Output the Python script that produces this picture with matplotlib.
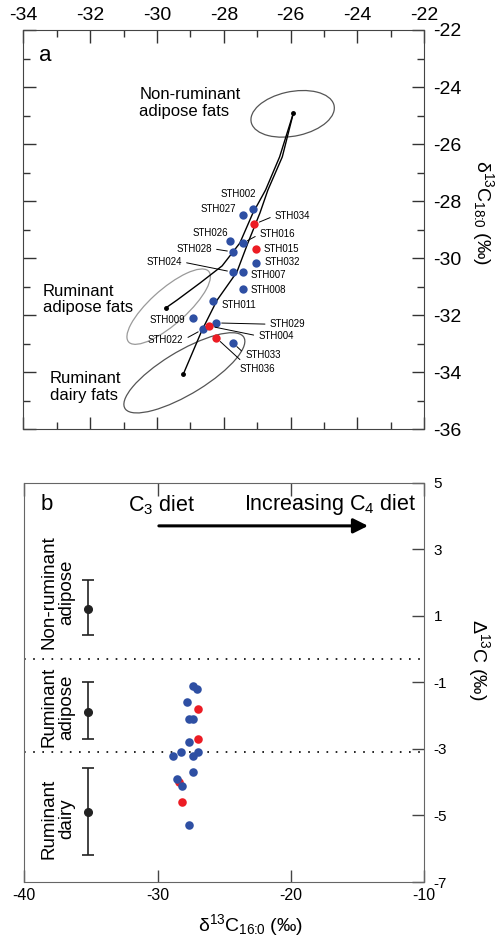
import matplotlib.pyplot as plt
from matplotlib.patches import Ellipse
from matplotlib.ticker import MultipleLocator

plt.rcParams['font.family'] = ['Liberation Sans', 'DejaVu Sans']
plt.rcParams['mathtext.fontset'] = 'custom'
plt.rcParams['mathtext.rm'] = 'Liberation Sans'
plt.rcParams['mathtext.it'] = 'Liberation Sans:italic'
plt.rcParams['mathtext.bf'] = 'Liberation Sans:bold'
plt.rcParams['axes.unicode_minus'] = False

BLUE = '#2e4fa3'
RED = '#ec1c24'

# ---- panel a: sample values (d13C16:0, d13C18:0) ----
samples = ['STH002', 'STH027', 'STH034', 'STH026', 'STH016', 'STH015',
           'STH028', 'STH032', 'STH024', 'STH007', 'STH008', 'STH011',
           'STH009', 'STH029', 'STH004', 'STH022', 'STH036', 'STH033']
c16 = [-27.14, -27.44, -27.09, -27.82, -27.44, -27.05,
       -27.73, -27.05, -27.73, -27.44, -27.44, -28.32,
       -28.92, -28.23, -28.43, -28.62, -28.23, -27.73]
c18 = [-28.29, -28.49, -28.81, -29.39, -29.48, -29.69,
       -29.78, -30.18, -30.49, -30.49, -31.07, -31.49,
       -32.09, -32.27, -32.38, -32.49, -32.79, -32.97]
red_samples = ['STH034', 'STH015', 'STH004', 'STH036']

# reference fields (centre x, centre y, width, height, angle)
ref_names = ['Non-ruminant\nadipose fats', 'Ruminant\nadipose fats', 'Ruminant\ndairy fats']
ref_cx = [-25.94, -29.65, -29.18]
ref_cy = [-24.94, -31.70, -34.02]
ref_w = [2.55, 3.45, 4.35]
ref_h = [1.55, 1.15, 1.45]
ref_ang = [15, 47, 36]

# mixing curves
mix_adipose_x = [-25.92, -26.33, -26.75, -27.13, -27.52, -28.05, -28.71, -29.40, -29.73]
mix_adipose_y = [-24.92, -26.45, -27.61, -28.42, -29.47, -30.27, -30.87, -31.47, -31.74]
mix_dairy_x = [-25.92, -26.25, -26.68, -26.92, -27.28, -27.61, -28.20, -28.65, -29.21]
mix_dairy_y = [-24.92, -26.45, -27.61, -28.42, -29.47, -30.49, -31.47, -32.52, -34.06]

# ---- panel b: d13C16:0 vs Delta13C ----
b_x_blue = [-27.37, -27.04, -27.77, -27.67, -27.37, -27.67, -28.87,
            -28.27, -27.37, -26.94, -27.37, -28.57, -28.17, -27.67]
b_y_blue = [-1.10, -1.21, -1.60, -2.11, -2.11, -2.80, -3.20,
            -3.10, -3.20, -3.10, -3.70, -3.90, -4.10, -5.30]
b_x_red = [-26.99, -26.99, -28.37, -28.17]
b_y_red = [-1.80, -2.70, -4.00, -4.60]

grp_names = ['Non-ruminant\nadipose', 'Ruminant\nadipose', 'Ruminant\ndairy']
grp_mean = [1.20, -1.90, -4.90]
grp_low = [0.43, -2.70, -6.20]
grp_high = [2.08, -1.00, -3.57]
grp_x = -35.2
boundaries = [-0.3, -3.1]

# label placement: offset in pixels (right, up), alignment, leader line
PX = 0.72
label_pos = {
    'STH002': (3.3, 15, 'right', False), 'STH027': (-6.7, 5.7, 'right', False),
    'STH034': (20.7, 8.6, 'left', True), 'STH026': (-2, 8, 'right', False),
    'STH016': (17.3, 9.3, 'left', True), 'STH015': (7.6, 0.6, 'left', False),
    'STH028': (-21, 3.3, 'right', True), 'STH032': (8.6, 1.3, 'left', False),
    'STH024': (-51, 10.3, 'right', True), 'STH007': (8, -3.3, 'left', False),
    'STH008': (8, -1.3, 'left', False), 'STH011': (8.7, -4.3, 'left', False),
    'STH009': (-8, -2.3, 'right', False), 'STH029': (53.7, -1.3, 'left', True),
    'STH004': (49, -10, 'left', True), 'STH022': (-19.7, -10.7, 'right', True),
    'STH033': (13, -12, 'left', True), 'STH036': (23, -31, 'left', True),
}

fig = plt.figure(figsize=(4.99, 9.40), dpi=100)
ax1 = fig.add_axes([0.0467, 0.5433, 0.8036, 0.4248])
ax2 = fig.add_axes([0.0487, 0.0617, 0.8010, 0.4245])

# ---------------- panel a ----------------
ell_cols = ['#555555', '#9a9a9a', '#555555']
for i in range(3):
    ax1.add_patch(Ellipse((ref_cx[i], ref_cy[i]), ref_w[i], ref_h[i], angle=ref_ang[i],
                          fill=False, ec=ell_cols[i], lw=0.9))
ax1.plot(mix_adipose_x, mix_adipose_y, color='k', lw=1.0)
ax1.plot(mix_dairy_x, mix_dairy_y, color='k', lw=1.0)
ax1.plot([mix_adipose_x[0], mix_adipose_x[-1], mix_dairy_x[-1]],
         [mix_adipose_y[0], mix_adipose_y[-1], mix_dairy_y[-1]],
         'o', color='k', ms=2.5, ls='none')

bx = [x for s, x in zip(samples, c16) if s not in red_samples]
by = [y for s, y in zip(samples, c18) if s not in red_samples]
rx = [x for s, x in zip(samples, c16) if s in red_samples]
ry = [y for s, y in zip(samples, c18) if s in red_samples]
ax1.scatter(bx, by, s=36, color=BLUE, zorder=3, lw=0)
ax1.scatter(rx, ry, s=36, color=RED, zorder=4, lw=0)

for s, x, y in zip(samples, c16, c18):
    dx, dy, ha, lead = label_pos[s]
    kw = {}
    if lead:
        rel = (0, 0.5) if ha == 'left' else (1, 0.5)
        if s == 'STH036':
            rel = (0.15, 1.0)
        kw['arrowprops'] = dict(arrowstyle='-', color='k', lw=0.7,
                                shrinkA=1.5, shrinkB=4, relpos=rel)
    ax1.annotate(s, (x, y), xytext=(dx * PX, dy * PX), textcoords='offset points',
                 ha=ha, va='center', fontsize=7, **kw)

ax1.text(-30.53, -24.57, ref_names[0], fontsize=12, ha='left', va='center', linespacing=1.15)
ax1.text(-33.42, -31.45, ref_names[1], fontsize=12, ha='left', va='center', linespacing=1.15)
ax1.text(-33.20, -34.51, ref_names[2], fontsize=12, ha='left', va='center', linespacing=1.15)
ax1.text(0.054, 0.937, 'a', transform=ax1.transAxes, fontsize=16, ha='center', va='center')

ax1.set_xlim(-34, -22)
ax1.set_ylim(-36, -22)
ax1.xaxis.set_major_locator(MultipleLocator(2))
ax1.xaxis.set_minor_locator(MultipleLocator(1))
ax1.yaxis.set_major_locator(MultipleLocator(2))
ax1.yaxis.set_minor_locator(MultipleLocator(1))
ax1.tick_params(which='both', direction='in', top=True, bottom=True, left=True, right=True,
                labeltop=True, labelbottom=False, labelleft=False, labelright=True,
                labelsize=14, color='#333333', width=1.0)
ax1.tick_params(which='major', length=9, pad=4)
ax1.tick_params(which='minor', length=5)
ax1.tick_params(axis='y', which='major', pad=6)
for sp in ax1.spines.values():
    sp.set_color('#444444')
ax1.set_ylabel(r'δ$^{13}$C$_{18\hspace{-0.28}:\hspace{-0.28}0}$ (‰)', fontsize=14,
               rotation=270, va='center', ha='center')
ax1.yaxis.set_label_position('right')
ax1.yaxis.set_label_coords(1.178, 0.544)

# ---------------- panel b ----------------
for yb in boundaries:
    ax2.axhline(yb, color='k', lw=1.2, ls=(0, (1, 4.5)), zorder=1)

ax2.errorbar([grp_x] * 3, grp_mean,
             yerr=[[m - lo for m, lo in zip(grp_mean, grp_low)],
                   [hi - m for m, hi in zip(grp_mean, grp_high)]],
             fmt='o', color='#222222', ms=5.5, capsize=4, elinewidth=1.2, capthick=1.2)

grp_ty = [1.72, -1.74, -5.10]
for name, ty in zip(grp_names, grp_ty):
    ax2.text(-37.5, ty, name, rotation=90, fontsize=13.5, ha='center', va='center',
             multialignment='center', linespacing=1.05)

ax2.scatter(b_x_red, b_y_red, s=38, color=RED, zorder=3, lw=0)
ax2.scatter(b_x_blue, b_y_blue, s=38, color=BLUE, zorder=4, lw=0)

ax2.text(0.056, 0.945, 'b', transform=ax2.transAxes, fontsize=16, ha='center', va='center')
ax2.text(-32.2, 4.34, 'C$_3$ diet', fontsize=15.5, ha='left', va='center')
ax2.text(-10.6, 4.34, 'Increasing C$_4$ diet', fontsize=15.5, ha='right', va='center')
ax2.annotate('', xy=(-14.2, 3.71), xytext=(-29.9, 3.71),
             arrowprops=dict(arrowstyle='-|>', color='k', lw=2.2, mutation_scale=22,
                             shrinkA=0, shrinkB=0))

ax2.set_xlim(-40, -10)
ax2.set_ylim(-7, 5)
ax2.set_xticks([-40, -30, -20, -10])
ax2.set_yticks([5, 3, 1, -1, -3, -5, -7])
ax2.tick_params(direction='in', top=True, bottom=True, left=False, right=True,
                labelleft=False, labelright=True, length=9, color='#444444', width=1.0)
ax2.tick_params(axis='x', labelsize=11.5, pad=4)
ax2.tick_params(axis='y', labelsize=11, pad=7)
for sp in ax2.spines.values():
    sp.set_color('#666666')
ax2.set_ylabel('Δ$^{13}$C (‰)', fontsize=14, rotation=270, va='center', ha='center')
ax2.yaxis.set_label_position('right')
ax2.yaxis.set_label_coords(1.17, 0.556)
ax2.set_xlabel(r'δ$^{13}$C$_{16\hspace{-0.28}:\hspace{-0.28}0}$ (‰)', fontsize=14,
               va='center', ha='center')
ax2.xaxis.set_label_coords(0.565, -0.108)

fig.savefig('out.png', dpi=100)
